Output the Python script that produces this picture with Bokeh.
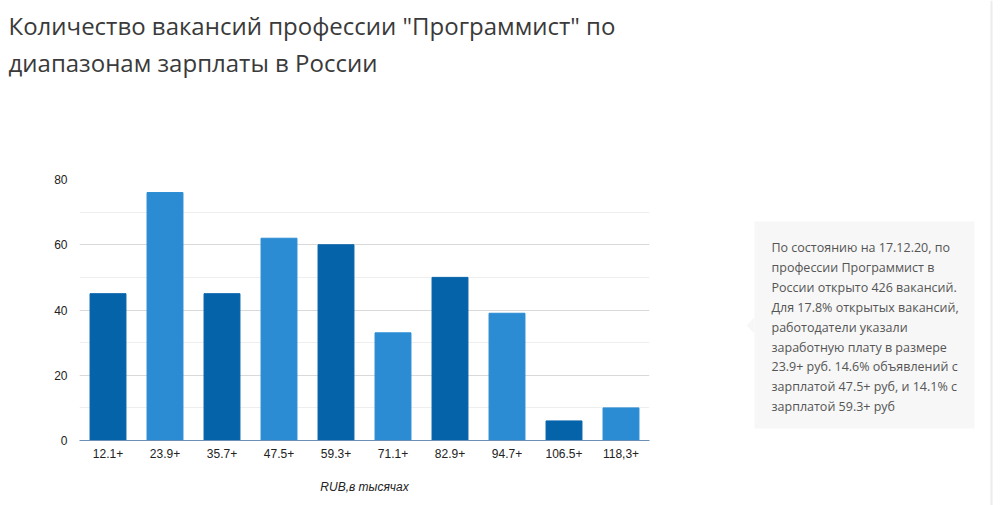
from bokeh.plotting import figure
from bokeh.models import ColumnDataSource, FactorRange, Range1d, SingleIntervalTicker
from bokeh.layouts import column, row
from bokeh.core.properties import value
from bokeh.embed import file_html
from bokeh.resources import INLINE

# ---- data ----
categories = ["12.1+", "23.9+", "35.7+", "47.5+", "59.3+", "71.1+", "82.9+", "94.7+", "106.5+", "118,3+"]
vacancies = [45, 76, 45, 62, 60, 33, 50, 39, 6, 10]
bar_colors = ["#0563aa", "#2b8cd3"] * 5
title_lines = ['Количество вакансий профессии "Программист" по', 'диапазонам зарплаты в России']
x_title = "RUB,в тысячах"
note_lines = [
    "По состоянию на 17.12.20, по",
    "профессии Программист в",
    "России открыто 426 вакансий.",
    "Для 17.8% открытых вакансий,",
    "работодатели указали",
    "заработную плату в размере",
    "23.9+ руб. 14.6% объявлений с",
    "зарплатой 47.5+ руб, и 14.1% с",
    "зарплатой 59.3+ руб",
]

W, H = 1000, 505
TOP_H = 100          # height of the title strip
CHART_W = 660


def blank(fig):
    fig.axis.visible = False
    fig.grid.visible = False
    fig.outline_line_color = None
    fig.background_fill_color = "white"
    fig.border_fill_color = "white"
    fig.min_border = 0
    return fig


# ---- title strip (coordinates = page pixels) ----
tf = blank(figure(width=CHART_W, height=TOP_H, x_range=Range1d(0, CHART_W), y_range=Range1d(TOP_H, 0),
                  output_backend="svg", toolbar_location=None))
tf.text(x=[8, 8], y=[25, 62], text=title_lines, text_font=value("Open Sans"),
        text_font_size="24px", text_color="#3a3a3a", text_baseline="alphabetic", text_align="left")

# ---- chart ----
src = ColumnDataSource(dict(cat=categories, val=vacancies, color=bar_colors))
FL, FW = 79, 570
FT, FH = 179 - TOP_H, 261
CH = H - TOP_H
p = figure(width=CHART_W, height=CH, x_range=FactorRange(factors=categories), y_range=Range1d(0, 80),
           output_backend="svg", toolbar_location=None,
           min_border_left=FL, min_border_right=CHART_W - FL - FW,
           min_border_top=FT, min_border_bottom=CH - FT - FH)
p.outline_line_color = None
p.background_fill_color = "white"
p.border_fill_color = "white"

p.vbar(x="cat", top="val", width=0.63, color="color", source=src)

p.yaxis.ticker = SingleIntervalTicker(interval=20, num_minor_ticks=2)
p.yaxis.axis_line_color = None
p.yaxis.major_tick_line_color = None
p.yaxis.minor_tick_line_color = None
p.yaxis.major_label_text_font = "Liberation Sans"
p.yaxis.major_label_text_font_size = "12px"
p.yaxis.major_label_text_color = "#222222"
p.yaxis.major_label_standoff = 6

p.xaxis.axis_line_color = "#6d8fb7"
p.xaxis.major_tick_line_color = None
p.xaxis.minor_tick_line_color = None
p.xaxis.major_label_text_font = "Liberation Sans"
p.xaxis.major_label_text_font_size = "12px"
p.xaxis.major_label_text_color = "#222222"
p.xaxis.major_label_standoff = 2
p.xaxis.axis_label = x_title
p.xaxis.axis_label_text_font = "Liberation Sans"
p.xaxis.axis_label_text_font_size = "12px"
p.xaxis.axis_label_text_font_style = "italic"
p.xaxis.axis_label_text_color = "#222222"
p.xaxis.axis_label_standoff = 19

p.xgrid.grid_line_color = None
p.ygrid.grid_line_color = "#d9d9d9"
p.ygrid.minor_grid_line_color = "#eeeeee"

# ---- note panel (coordinates = page pixels), full height ----
NW = W - CHART_W
nf = blank(figure(width=NW, height=H, x_range=Range1d(CHART_W, W), y_range=Range1d(H, 0),
                  output_backend="svg", toolbar_location=None))
nf.quad(left=[754], right=[974], top=[221], bottom=[428], fill_color="#f7f7f7", line_color=None)
nf.patch(x=[754, 746, 754], y=[317, 325, 333], fill_color="#f7f7f7", line_color=None)
nf.text(x=[771] * len(note_lines), y=[247 + 19.9 * i for i in range(len(note_lines))], text=note_lines,
        text_font=value("Open Sans"), text_font_size="12.5px", text_color="#555555",
        text_baseline="alphabetic", text_align="left")
nf.quad(left=[990], right=[992], top=[0], bottom=[H], fill_color="#ececec", line_color=None)

layout = row(column(row(tf), p), nf)
open("out.html", "w").write(file_html(layout, INLINE))
